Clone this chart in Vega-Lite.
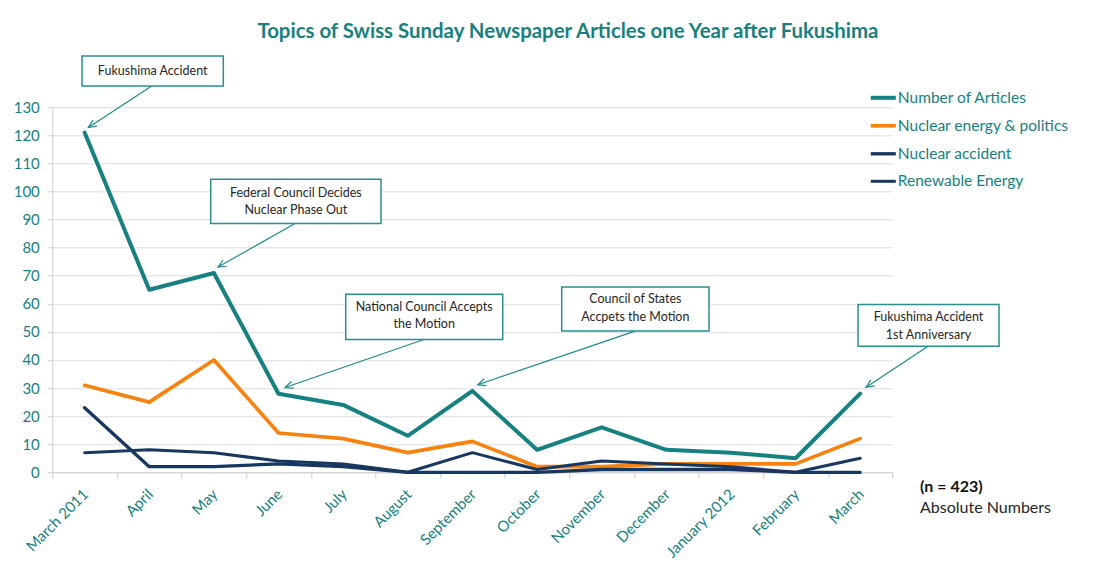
{
  "$schema": "https://vega.github.io/schema/vega-lite/v6.json",
  "autosize": {"type": "none"},
  "width": 840.2,
  "height": 365,
  "padding": {"left": 52.3, "top": 107.3, "right": 225.5, "bottom": 91.7},
  "background": "white",
  "title": {
    "text": "Topics of Swiss Sunday Newspaper Articles one Year after Fukushima",
    "font": "Lato",
    "fontSize": 20.4,
    "fontWeight": "bold",
    "color": "#187F7F",
    "frame": "group",
    "anchor": "middle",
    "dx": 95.5,
    "offset": 13
  },
  "datasets": {
    "series": [
      {"i": 0, "month": "March 2011", "series": "Number of Articles", "value": 121},
      {"i": 1, "month": "April", "series": "Number of Articles", "value": 65},
      {"i": 2, "month": "May", "series": "Number of Articles", "value": 71},
      {"i": 3, "month": "June", "series": "Number of Articles", "value": 28},
      {"i": 4, "month": "July", "series": "Number of Articles", "value": 24},
      {"i": 5, "month": "August", "series": "Number of Articles", "value": 13},
      {"i": 6, "month": "September", "series": "Number of Articles", "value": 29},
      {"i": 7, "month": "October", "series": "Number of Articles", "value": 8},
      {"i": 8, "month": "November", "series": "Number of Articles", "value": 16},
      {"i": 9, "month": "December", "series": "Number of Articles", "value": 8},
      {"i": 10, "month": "January 2012", "series": "Number of Articles", "value": 7},
      {"i": 11, "month": "February", "series": "Number of Articles", "value": 5},
      {"i": 12, "month": "March", "series": "Number of Articles", "value": 28},
      {"i": 0, "month": "March 2011", "series": "Nuclear energy & politics", "value": 31},
      {"i": 1, "month": "April", "series": "Nuclear energy & politics", "value": 25},
      {"i": 2, "month": "May", "series": "Nuclear energy & politics", "value": 40},
      {"i": 3, "month": "June", "series": "Nuclear energy & politics", "value": 14},
      {"i": 4, "month": "July", "series": "Nuclear energy & politics", "value": 12},
      {"i": 5, "month": "August", "series": "Nuclear energy & politics", "value": 7},
      {"i": 6, "month": "September", "series": "Nuclear energy & politics", "value": 11},
      {"i": 7, "month": "October", "series": "Nuclear energy & politics", "value": 2},
      {"i": 8, "month": "November", "series": "Nuclear energy & politics", "value": 2},
      {"i": 9, "month": "December", "series": "Nuclear energy & politics", "value": 3},
      {"i": 10, "month": "January 2012", "series": "Nuclear energy & politics", "value": 3},
      {"i": 11, "month": "February", "series": "Nuclear energy & politics", "value": 3},
      {"i": 12, "month": "March", "series": "Nuclear energy & politics", "value": 12},
      {"i": 0, "month": "March 2011", "series": "Nuclear accident", "value": 23},
      {"i": 1, "month": "April", "series": "Nuclear accident", "value": 2},
      {"i": 2, "month": "May", "series": "Nuclear accident", "value": 2},
      {"i": 3, "month": "June", "series": "Nuclear accident", "value": 3},
      {"i": 4, "month": "July", "series": "Nuclear accident", "value": 2},
      {"i": 5, "month": "August", "series": "Nuclear accident", "value": 0},
      {"i": 6, "month": "September", "series": "Nuclear accident", "value": 0},
      {"i": 7, "month": "October", "series": "Nuclear accident", "value": 0},
      {"i": 8, "month": "November", "series": "Nuclear accident", "value": 1},
      {"i": 9, "month": "December", "series": "Nuclear accident", "value": 1},
      {"i": 10, "month": "January 2012", "series": "Nuclear accident", "value": 1},
      {"i": 11, "month": "February", "series": "Nuclear accident", "value": 0},
      {"i": 12, "month": "March", "series": "Nuclear accident", "value": 0},
      {"i": 0, "month": "March 2011", "series": "Renewable Energy", "value": 7},
      {"i": 1, "month": "April", "series": "Renewable Energy", "value": 8},
      {"i": 2, "month": "May", "series": "Renewable Energy", "value": 7},
      {"i": 3, "month": "June", "series": "Renewable Energy", "value": 4},
      {"i": 4, "month": "July", "series": "Renewable Energy", "value": 3},
      {"i": 5, "month": "August", "series": "Renewable Energy", "value": 0},
      {"i": 6, "month": "September", "series": "Renewable Energy", "value": 7},
      {"i": 7, "month": "October", "series": "Renewable Energy", "value": 1},
      {"i": 8, "month": "November", "series": "Renewable Energy", "value": 4},
      {"i": 9, "month": "December", "series": "Renewable Energy", "value": 3},
      {"i": 10, "month": "January 2012", "series": "Renewable Energy", "value": 2},
      {"i": 11, "month": "February", "series": "Renewable Energy", "value": 0},
      {"i": 12, "month": "March", "series": "Renewable Energy", "value": 5}
    ],
    "notes": [
      {"label": "Fukushima Accident", "bx1": -0.04, "bx2": 2.146, "by1": 137.6, "by2": 148.3, "tx": 1.053, "ty": 142.9, "ax1": 1.038, "ay1": 137.6, "ax2": 0.057, "ay2": 122.8, "angle": 236.7},
      {"label": "Federal Council Decides\nNuclear Phase Out", "bx1": 1.951, "bx2": 4.586, "by1": 88.6, "by2": 104.4, "tx": 3.268, "ty": 99.6, "ax1": 3.255, "ay1": 88.6, "ax2": 2.064, "ay2": 73.1, "angle": 240.6},
      {"label": "National Council Accepts\nthe Motion", "bx1": 4.04, "bx2": 6.469, "by1": 47.3, "by2": 63.4, "tx": 5.254, "ty": 58.9, "ax1": 5.251, "ay1": 47.3, "ax2": 3.101, "ay2": 30.2, "angle": 251},
      {"label": "Council of States\nAccpets the Motion", "bx1": 7.382, "bx2": 9.661, "by1": 50.3, "by2": 66.0, "tx": 8.521, "ty": 61.6, "ax1": 8.516, "ay1": 50.3, "ax2": 6.082, "ay2": 31.2, "angle": 251.2},
      {"label": "Fukushima Accident\n1st Anniversary", "bx1": 11.967, "bx2": 14.148, "by1": 44.9, "by2": 59.8, "tx": 13.057, "ty": 55.2, "ax1": 13.05, "ay1": 44.9, "ax2": 12.091, "ay2": 30.3, "angle": 236.5}
    ],
    "nvalue": [{"label": "(n = 423)", "x": 12.926, "y": -5.3}],
    "unit": [{"label": "Absolute Numbers", "x": 12.926, "y": -12.8}]
  },
  "layer": [
    {
      "data": {"name": "series"},
      "mark": {"type": "line", "strokeJoin": "round", "strokeCap": "round"},
      "encoding": {
        "x": {
          "field": "i",
          "type": "quantitative",
          "scale": {"domain": [-0.5, 12.5], "nice": false, "zero": false},
          "axis": {
            "title": null,
            "values": [-0.5, 0.5, 1.5, 2.5, 3.5, 4.5, 5.5, 6.5, 7.5, 8.5, 9.5, 10.5, 11.5, 12.5],
            "tickCount": 30,
            "labelExpr": "datum.value < 12 ? ['March 2011','April','May','June','July','August','September','October','November','December','January 2012','February','March'][datum.value + 0.5] : ''",
            "labelOffset": 33,
            "labelAngle": -45,
            "labelAlign": "right",
            "labelBaseline": "middle",
            "labelPadding": 13,
            "labelOverlap": false,
            "labelBound": false,
            "labelFlush": false,
            "labelFont": "Lato",
            "labelFontSize": 15,
            "labelColor": "#178080",
            "grid": false,
            "tickSize": 6,
            "tickColor": "#C9CFD2",
            "domainColor": "#C9CFD2"
          }
        },
        "y": {
          "field": "value",
          "type": "quantitative",
          "scale": {"domain": [0, 130], "nice": false},
          "axis": {"title": null, "values": [0, 10, 20, 30, 40, 50, 60, 70, 80, 90, 100, 110, 120, 130], "tickCount": 30}
        },
        "color": {
          "field": "series",
          "type": "nominal",
          "scale": {
            "domain": ["Number of Articles", "Nuclear energy & politics", "Nuclear accident", "Renewable Energy"],
            "range": ["#178080", "#F7820F", "#17375E", "#17375E"]
          },
          "legend": {
            "orient": "none",
            "legendX": 816.5,
            "legendY": -24,
            "title": null,
            "symbolType": "stroke",
            "symbolSize": 625,
            "symbolStrokeWidth": 3.5,
            "labelFont": "Lato",
            "labelFontSize": 15.5,
            "labelColor": "#178080",
            "labelLimit": 300,
            "rowPadding": 5,
            "labelOffset": 0,
            "padding": 0
          }
        },
        "strokeWidth": {
          "field": "series",
          "type": "nominal",
          "scale": {
            "domain": ["Number of Articles", "Nuclear energy & politics", "Nuclear accident", "Renewable Energy"],
            "range": [4, 3, 3.5, 3.5]
          },
          "legend": null
        }
      }
    },
    {
      "data": {"name": "notes"},
      "mark": {"type": "rule", "color": "#1E8A8A", "strokeWidth": 1.2},
      "encoding": {
        "x": {"field": "ax1", "type": "quantitative"},
        "x2": {"field": "ax2"},
        "y": {"field": "ay1", "type": "quantitative", "axis": {"title": null, "values": [0, 10, 20, 30, 40, 50, 60, 70, 80, 90, 100, 110, 120, 130], "tickCount": 30}},
        "y2": {"field": "ay2"}
      }
    },
    {
      "data": {"name": "notes"},
      "mark": {"type": "point", "shape": "M-0.45,1L0,0L0.45,1", "filled": false, "size": 256, "color": "#1E8A8A", "strokeWidth": 1.2, "opacity": 1},
      "encoding": {
        "x": {"field": "ax2", "type": "quantitative"},
        "y": {"field": "ay2", "type": "quantitative", "axis": {"title": null, "values": [0, 10, 20, 30, 40, 50, 60, 70, 80, 90, 100, 110, 120, 130], "tickCount": 30}},
        "angle": {"field": "angle", "type": "quantitative", "scale": null}
      }
    },
    {
      "data": {"name": "notes"},
      "mark": {"type": "rect", "fill": "white", "stroke": "#2A8E8E", "strokeWidth": 1.5},
      "encoding": {
        "x": {"field": "bx1", "type": "quantitative"},
        "x2": {"field": "bx2"},
        "y": {"field": "by1", "type": "quantitative", "axis": {"title": null, "values": [0, 10, 20, 30, 40, 50, 60, 70, 80, 90, 100, 110, 120, 130], "tickCount": 30}},
        "y2": {"field": "by2"}
      }
    },
    {
      "data": {"name": "notes"},
      "mark": {"type": "text", "font": "Lato", "fontSize": 12.5, "color": "#262626", "align": "center", "baseline": "middle", "lineBreak": "\n", "lineHeight": 17.5},
      "encoding": {
        "x": {"field": "tx", "type": "quantitative"},
        "y": {"field": "ty", "type": "quantitative", "axis": {"title": null, "values": [0, 10, 20, 30, 40, 50, 60, 70, 80, 90, 100, 110, 120, 130], "tickCount": 30}},
        "text": {"field": "label"}
      }
    },
    {
      "data": {"name": "nvalue"},
      "mark": {"type": "text", "font": "Lato", "fontSize": 16, "fontWeight": "bold", "color": "#111111", "align": "left", "baseline": "middle"},
      "encoding": {
        "x": {"field": "x", "type": "quantitative"},
        "y": {"field": "y", "type": "quantitative", "axis": {"title": null, "values": [0, 10, 20, 30, 40, 50, 60, 70, 80, 90, 100, 110, 120, 130], "tickCount": 30}},
        "text": {"field": "label"}
      }
    },
    {
      "data": {"name": "unit"},
      "mark": {"type": "text", "font": "Lato", "fontSize": 16, "color": "#262626", "align": "left", "baseline": "middle"},
      "encoding": {
        "x": {"field": "x", "type": "quantitative"},
        "y": {"field": "y", "type": "quantitative", "axis": {"title": null, "values": [0, 10, 20, 30, 40, 50, 60, 70, 80, 90, 100, 110, 120, 130], "tickCount": 30}},
        "text": {"field": "label"}
      }
    }
  ],
  "config": {
    "view": {"stroke": null},
    "font": "Lato",
    "axisY": {
      "labelFont": "Lato",
      "labelFontSize": 15,
      "labelColor": "#178080",
      "labelPadding": 8,
      "labelOverlap": false,
      "labelBound": false,
      "labelFlush": false,
      "tickSize": 5,
      "tickColor": "#C9CFD2",
      "domainColor": "#C9CFD2",
      "gridColor": "#DDDDDD"
    }
  }
}
